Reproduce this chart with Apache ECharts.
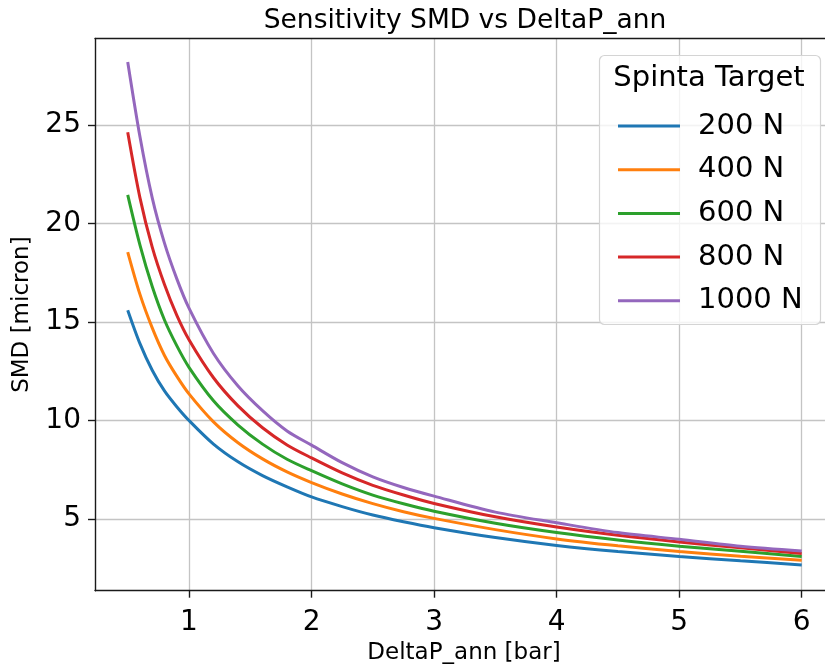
<!DOCTYPE html>
<html>
<head>
<meta charset="utf-8">
<script src="https://cdn.jsdelivr.net/npm/echarts@6/dist/echarts.min.js"></script>
<style>html,body{margin:0;padding:0;background:#fff}#c{width:825px;height:664px}</style>
</head>
<body>
<div id="c"></div>
<script>
const deltaP = [0.5, 0.6, 0.7, 0.8, 0.9, 1.0, 1.2, 1.4, 1.6, 1.8, 2.0, 2.25, 2.5, 2.75, 3.0, 3.5, 4.0, 4.5, 5.0, 5.5, 6.0];
const smd200  = [15.6, 13.9, 12.55, 11.5, 10.7, 10.0, 8.8, 7.9, 7.2, 6.63, 6.12, 5.63, 5.2, 4.86, 4.56, 4.06, 3.66, 3.35, 3.1, 2.88, 2.67];
const smd400  = [18.55, 16.4, 14.7, 13.3, 12.25, 11.35, 9.93, 8.87, 8.05, 7.39, 6.85, 6.27, 5.78, 5.37, 5.03, 4.46, 3.99, 3.64, 3.35, 3.11, 2.9];
const smd600  = [21.45, 18.9, 16.8, 15.1, 13.8, 12.7, 11.0, 9.77, 8.8, 8.03, 7.45, 6.78, 6.21, 5.77, 5.39, 4.78, 4.31, 3.93, 3.62, 3.36, 3.1];
const smd800  = [24.63, 21.3, 18.8, 16.9, 15.35, 14.1, 12.17, 10.74, 9.63, 8.76, 8.1, 7.34, 6.71, 6.22, 5.79, 5.11, 4.59, 4.17, 3.83, 3.54, 3.25];
const smd1000 = [28.2, 24.4, 21.3, 19.0, 17.2, 15.7, 13.4, 11.75, 10.5, 9.47, 8.75, 7.86, 7.14, 6.6, 6.16, 5.35, 4.81, 4.31, 3.97, 3.62, 3.38];
const seriesNames = ['200 N', '400 N', '600 N', '800 N', '1000 N'];
const seriesValues = [smd200, smd400, smd600, smd800, smd1000];
const colors = ['#1f77b4', '#ff7f0e', '#2ca02c', '#d62728', '#9467bd'];
const xTicks = [1, 2, 3, 4, 5, 6];
const yTicks = [5, 10, 15, 20, 25];
const titleText = 'Sensitivity SMD vs DeltaP_ann';
const xName = 'DeltaP_ann [bar]';
const yName = 'SMD [micron]';
const legendTitle = 'Spinta Target';

const FONT = 'DejaVu Sans';
const chart = echarts.init(document.getElementById('c'), null, {renderer: 'canvas'});

const series = seriesNames.map((name, i) => ({
  name: name,
  type: 'line',
  data: deltaP.map((x, j) => [x, seriesValues[i][j]]),
  symbol: 'none',
  smooth: 0.3,
  lineStyle: {color: colors[i], width: 3},
  itemStyle: {color: colors[i]},
  z: 3
}));

const axisLineStyle = {color: '#1a1a1a', width: 1.4};
chart.setOption({
  animation: false,
  color: colors,
  grid: {left: 95, top: 38.5, right: 0, bottom: 73.3, containLabel: false, outerBoundsMode: 'none'},
  xAxis: [{
    type: 'value', min: 0.233, max: 6.19,
    axisLine: {show: true, onZero: false, lineStyle: axisLineStyle},
    axisTick: {show: true, length: 7, lineStyle: axisLineStyle, customValues: xTicks},
    axisLabel: {show: true, fontSize: 28, color: '#000', fontFamily: FONT, margin: 18, customValues: xTicks},
    splitLine: {show: true, lineStyle: {color: '#c4c4c4', width: 1.3}},
    name: xName, nameLocation: 'middle', nameGap: 43,
    nameTextStyle: {fontSize: 23, color: '#000', fontFamily: FONT, padding: [0, 0, 0, 8]}
  }, {
    type: 'value', min: 0.233, max: 6.19, position: 'top',
    axisLine: {show: true, onZero: false, lineStyle: axisLineStyle},
    axisTick: {show: false}, axisLabel: {show: false}, splitLine: {show: false}
  }],
  yAxis: [{
    type: 'value', min: 1.36, max: 29.39,
    axisLine: {show: true, onZero: false, lineStyle: axisLineStyle},
    axisTick: {show: true, length: 7, lineStyle: axisLineStyle, customValues: yTicks},
    axisLabel: {show: true, fontSize: 28, color: '#000', fontFamily: FONT, margin: 14, customValues: yTicks},
    splitLine: {show: true, lineStyle: {color: '#c4c4c4', width: 1.3}},
    name: yName, nameLocation: 'middle', nameGap: 61, nameRotate: 90,
    nameTextStyle: {fontSize: 23, color: '#000', fontFamily: FONT}
  }],
  legend: {
    data: seriesNames,
    orient: 'vertical',
    left: 613, top: 106,
    itemWidth: 62, itemHeight: 3,
    itemGap: 13.7,
    icon: 'rect',
    textStyle: {fontSize: 29, color: '#000', fontFamily: FONT, lineHeight: 30, padding: [0, 0, 0, 13]},
    z: 200
  },
  graphic: [
    {type: 'rect', shape: {x: 599.5, y: 55.5, width: 221, height: 269, r: 5},
     style: {fill: 'rgba(255,255,255,0.8)', stroke: '#d4d4d4', lineWidth: 1.2}, z: 100},
    {type: 'text', x: 709, y: 78, z: 200,
     style: {text: legendTitle, fontSize: 29, fontFamily: FONT, fill: '#000', textAlign: 'center', textVerticalAlign: 'middle'}},
    {type: 'text', x: 465, y: 21, z: 200,
     style: {text: titleText, fontSize: 26.5, fontFamily: FONT, fill: '#000', textAlign: 'center', textVerticalAlign: 'middle'}}
  ],
  series: series
});
</script>
</body>
</html>
